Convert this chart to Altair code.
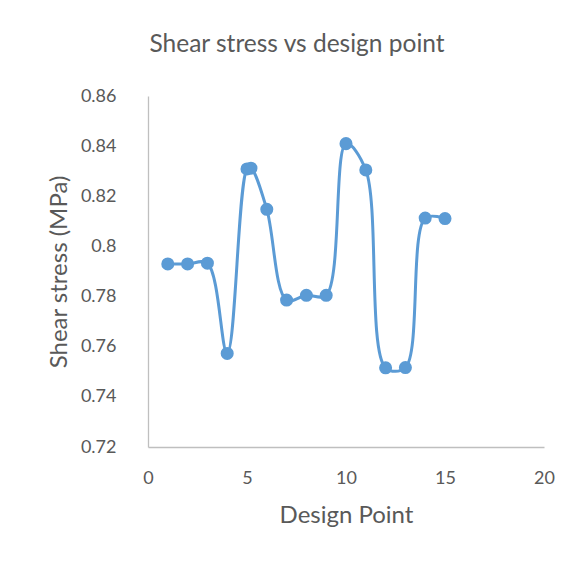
import altair as alt
import pandas as pd

design_point = [1, 2, 3, 4, 5, 5.2, 6, 7, 8, 9, 10, 11, 12, 13, 14, 15]
shear_stress = [0.793, 0.793, 0.7933, 0.7573, 0.8309, 0.8312, 0.8148, 0.7786, 0.7805, 0.7805,
                0.8410, 0.8305, 0.7516, 0.7517, 0.8113, 0.8111]

df = pd.DataFrame({"x": design_point, "y": shear_stress})
color = "#5B9BD5"
font = "Lato"

base = alt.Chart(df).encode(
    x=alt.X("x:Q", scale=alt.Scale(domain=[0, 20], nice=False),
            axis=alt.Axis(values=[0, 5, 10, 15, 20], title="Design Point", grid=False, ticks=False,
                          labelFlush=False,
                          domainColor="#BFBFBF", domainWidth=1.3, labelFont=font, labelFontSize=18,
                          labelColor="#595959", labelPadding=22, titleFont=font, titleFontSize=24,
                          titleFontWeight="normal", titleColor="#595959", titlePadding=16)),
    y=alt.Y("y:Q", scale=alt.Scale(domain=[0.72, 0.86], nice=False, zero=False),
            axis=alt.Axis(values=[0.72, 0.74, 0.76, 0.78, 0.8, 0.82, 0.84, 0.86], format="~g",
                          title="Shear stress (MPa)", grid=False, ticks=False, labelFlush=False,
                          domainColor="#BFBFBF", domainWidth=1.3, labelFont=font, labelFontSize=18,
                          labelColor="#595959", labelPadding=32, titleFont=font, titleFontSize=24,
                          titleFontWeight="normal", titleColor="#595959", titlePadding=9)),
)

line = base.mark_line(interpolate="catmull-rom", color=color, strokeWidth=3)
pts = base.mark_circle(color=color, opacity=1, size=170)

chart = (line + pts).properties(
    width=396, height=351,
    autosize=alt.AutoSizeParams(type="none"),
    padding={"left": 140, "top": 88, "right": 15, "bottom": 100},
    title=alt.TitleParams("Shear stress vs design point", font=font, fontSize=24.5,
                          fontWeight="normal", color="#595959", dx=-49, offset=30),
).configure_view(stroke=None)

chart.save("out.html", embed_options={"renderer": "svg", "actions": False})
